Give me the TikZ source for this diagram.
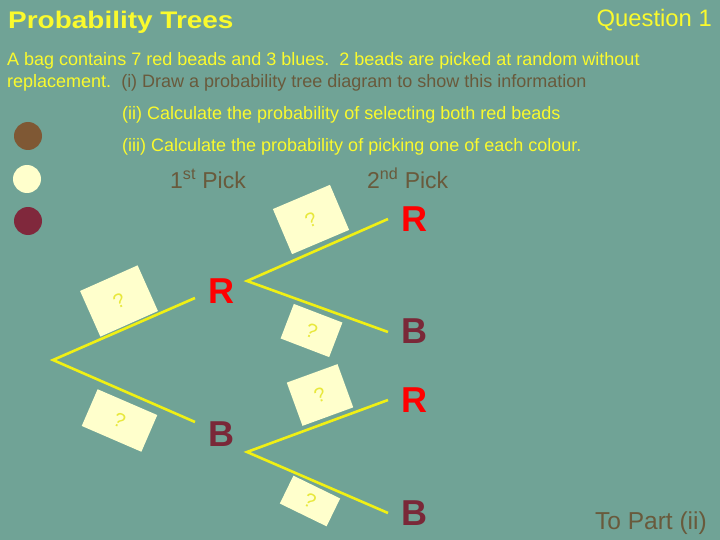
\documentclass[tikz,border=0pt]{standalone}
\usepackage{fontspec}
\setmainfont{Liberation Sans}
\definecolor{bg}{RGB}{112,163,150}
\definecolor{ytext}{RGB}{250,250,45}
\definecolor{btext}{RGB}{105,90,60}
\definecolor{rlab}{RGB}{255,0,0}
\definecolor{blab}{RGB}{122,40,56}
\definecolor{cream}{RGB}{255,255,204}
\definecolor{bead1}{RGB}{127,88,52}
\definecolor{bead3}{RGB}{128,40,60}
\definecolor{branch}{RGB}{240,240,20}
\definecolor{qmark}{RGB}{232,232,60}
\tikzset{
  txt/.style={inner sep=0pt, anchor=base west, font=\fontsize{18}{20}\selectfont, text=ytext},
  big/.style={inner sep=0pt, anchor=base west, font=\fontsize{36}{40}\selectfont\bfseries},
  pick/.style={inner sep=0pt, anchor=base west, font=\fontsize{23}{26}\selectfont, text=btext},
  qbox/.style={fill=cream, inner sep=0pt, text=qmark, font=\fontsize{20}{22}\selectfont},
  br/.style={draw=branch, line width=2.6pt},
  bead/.style={circle, minimum size=28pt, inner sep=0pt}
}
\begin{document}
\begin{tikzpicture}[x=1pt,y=-1pt]
\fill[bg] (0,0) rectangle (720,540);
\useasboundingbox (0,0) rectangle (720,540);
% header
\node[inner sep=0pt, anchor=base west, font=\fontsize{24}{28}\selectfont\bfseries, text=ytext] (title) at (8,29) {\scalebox{1.165}[1]{Probability Trees}};
\node[inner sep=0pt, anchor=base east, font=\fontsize{23.8}{28}\selectfont, text=ytext] (q1) at (712,27) {Question 1};
\node[txt] (l1) at (7,66) {A bag contains 7 red beads and 3 blues.\ \ 2 beads are picked at random without};
\node[txt] (l2) at (7,88) {replacement.\ \ \textcolor{btext}{(i) Draw a probability tree diagram to show this information}};
\node[txt] (l3) at (122,120) {(ii) Calculate the probability of selecting both red beads};
\node[txt] (l4) at (122,152) {(iii) Calculate the probability of picking one of each colour.};
% beads
\node[bead, fill=bead1] (b1) at (28,136) {};
\node[bead, fill=cream] (b2) at (27,179) {};
\node[bead, fill=bead3] (b3) at (28,221) {};
% pick headers
\node[pick] (p1) at (170,189) {1\textsuperscript{st} Pick};
\node[pick] (p2) at (367,189) {2\textsuperscript{nd} Pick};
% boxes
\node[qbox, minimum width=63pt, minimum height=50pt, rotate=24] (q11) at (119,301) {?};
\node[qbox, minimum width=65pt, minimum height=40pt, rotate=-23.4] (q12) at (119.5,420.5) {?};
\node[qbox, minimum width=62pt, minimum height=49pt, rotate=23] (q21) at (311,219.5) {?};
\node[qbox, minimum width=52pt, minimum height=37pt, rotate=-21] (q22) at (311.5,330.5) {?};
\node[qbox, minimum width=54pt, minimum height=46pt, rotate=20] (q23) at (320,395) {?};
\node[qbox, minimum width=52pt, minimum height=31pt, rotate=-26] (q24) at (310,501) {?};
% tree coordinates
\coordinate (r0) at (53,360);
\coordinate (a1) at (195,298);
\coordinate (a2) at (195,422);
\coordinate (rR) at (247,281);
\coordinate (rB) at (247,452);
\coordinate (e1) at (388,219);
\coordinate (e2) at (388,332);
\coordinate (e3) at (388,400);
\coordinate (e4) at (388,513);
\draw[br] (a1) -- (r0) -- (a2);
\draw[br] (e1) -- (rR) -- (e2);
\draw[br] (e3) -- (rB) -- (e4);
% labels
\node[big, text=rlab] (R1) at (208,303) {R};
\node[big, text=blab] (B1) at (208,446) {B};
\node[big, text=rlab] (R2) at (401,231) {R};
\node[big, text=blab] (B2) at (401,343) {B};
\node[big, text=rlab] (R3) at (401,412) {R};
\node[big, text=blab] (B3) at (401,525) {B};
\node[inner sep=0pt, anchor=base east, font=\fontsize{24.5}{28}\selectfont, text=btext] (tp) at (707,529) {To Part (ii)};
\end{tikzpicture}
\end{document}
